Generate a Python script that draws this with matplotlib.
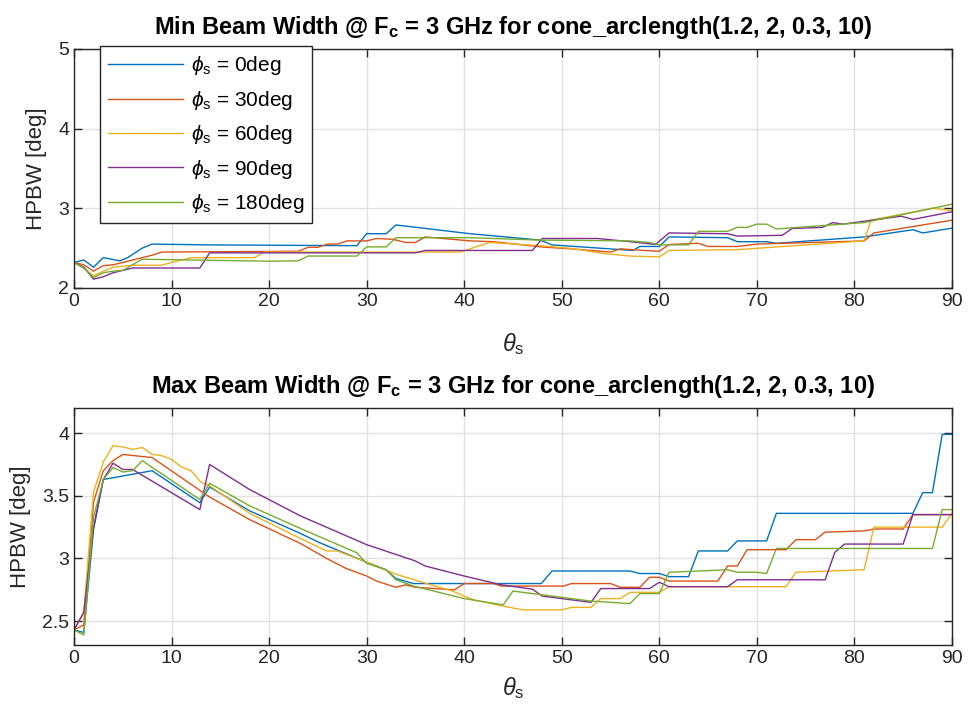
import numpy as np
import matplotlib
matplotlib.use("Agg")
import matplotlib.pyplot as plt

plt.rcParams['font.family'] = ['Liberation Sans', 'DejaVu Sans']
plt.rcParams['mathtext.fontset'] = 'custom'
plt.rcParams['mathtext.rm'] = 'Liberation Sans'
plt.rcParams['mathtext.it'] = 'Liberation Sans:italic'
plt.rcParams['mathtext.bf'] = 'Liberation Sans:bold'

phi_labels = [r'$\phi_\mathregular{s}$ = 0deg', r'$\phi_\mathregular{s}$ = 30deg',
              r'$\phi_\mathregular{s}$ = 60deg', r'$\phi_\mathregular{s}$ = 90deg',
              r'$\phi_\mathregular{s}$ = 180deg']
colors = ['#0072BD', '#D95319', '#EDB120', '#7E2F8E', '#77AC30']

# ---- Min beam width (top) ----
min_x_0 = [0, 1, 2, 3, 4.7, 5.5, 7, 8, 13.6, 29, 30, 32, 33, 40.6, 47.8, 49, 57.3, 58, 60, 61,
           67, 68, 71, 72, 81, 86, 87, 90]
min_y_0 = [2.32, 2.35, 2.26, 2.38, 2.34, 2.38, 2.50, 2.55, 2.54, 2.53, 2.68, 2.68, 2.79, 2.68,
           2.60, 2.54, 2.47, 2.52, 2.52, 2.64, 2.63, 2.58, 2.58, 2.56, 2.64, 2.73, 2.69, 2.75]
min_x_30 = [0, 1, 2, 3, 4, 6, 8, 9, 23, 24, 25, 26, 27, 28, 30, 31, 32.7, 34, 35, 36, 40.6, 43,
            47.8, 51, 55, 56, 57.3, 58.4, 60, 61, 64, 65, 68, 70, 81, 82, 90]
min_y_30 = [2.32, 2.29, 2.21, 2.28, 2.29, 2.35, 2.41, 2.45, 2.46, 2.51, 2.51, 2.55, 2.55, 2.59,
            2.59, 2.62, 2.61, 2.57, 2.57, 2.64, 2.59, 2.58, 2.515, 2.49, 2.45, 2.49, 2.48, 2.47,
            2.46, 2.545, 2.56, 2.52, 2.52, 2.55, 2.59, 2.69, 2.85]
min_x_60 = [0, 1, 2, 3, 4, 6, 9, 10, 12, 18.5, 19.5, 23, 39.6, 41.3, 42.6, 47.8, 51, 54.4, 57,
            60, 61, 68, 81, 81.7, 88, 90]
min_y_60 = [2.32, 2.25, 2.15, 2.21, 2.26, 2.285, 2.285, 2.32, 2.38, 2.38, 2.45, 2.45, 2.45, 2.52,
            2.57, 2.53, 2.495, 2.43, 2.40, 2.39, 2.47, 2.48, 2.59, 2.85, 3.0, 2.97]
min_x_90 = [0, 1, 2, 3, 4, 6, 12.9, 13.9, 35, 36, 47, 48, 53.7, 57, 59.6, 61, 67, 68, 72.6, 73.6,
            76.7, 77.8, 78.8, 84.8, 86, 90]
min_y_90 = [2.32, 2.26, 2.11, 2.14, 2.19, 2.25, 2.25, 2.44, 2.44, 2.47, 2.47, 2.62, 2.62, 2.58,
            2.545, 2.69, 2.68, 2.65, 2.66, 2.745, 2.76, 2.82, 2.80, 2.90, 2.86, 2.955]
min_x_180 = [0, 1, 2, 3, 4, 5, 7, 20, 23, 24, 29, 30, 32, 33, 40.6, 47.8, 57, 59, 60, 63, 64, 67,
             68, 69, 70, 71, 72, 81, 90]
min_y_180 = [2.32, 2.25, 2.13, 2.19, 2.21, 2.22, 2.36, 2.335, 2.34, 2.40, 2.40, 2.515, 2.515, 2.63,
             2.63, 2.60, 2.59, 2.57, 2.54, 2.54, 2.71, 2.71, 2.76, 2.76, 2.80, 2.80, 2.74, 2.82, 3.05]

# ---- Max beam width (bottom) ----
max_x_0 = [0, 1, 2, 3, 8, 12.9, 13.9, 18, 23.2, 25.2, 30, 32, 33, 34.8, 47.9, 49, 57, 58, 60, 61,
           63, 64, 67, 68, 71, 72, 86, 87, 88, 89, 90]
max_y_0 = [2.43, 2.41, 3.23, 3.63, 3.70, 3.445, 3.57, 3.38, 3.20, 3.125, 2.97, 2.91, 2.84, 2.80,
           2.80, 2.90, 2.90, 2.88, 2.88, 2.855, 2.855, 3.06, 3.06, 3.14, 3.14, 3.36, 3.36, 3.525,
           3.525, 3.99, 3.99]
max_x_30 = [0, 1, 2, 3, 4, 5, 8, 13.9, 18, 23.2, 25.9, 27.9, 30, 31, 33, 34, 35, 39, 40, 43, 43.8,
            50.2, 51, 55, 56, 58, 59, 60, 61, 66, 67, 68, 69, 73, 74, 76, 77, 81, 82, 85, 86, 90]
max_y_30 = [2.43, 2.47, 3.45, 3.70, 3.78, 3.83, 3.805, 3.49, 3.31, 3.12, 3.00, 2.92, 2.86, 2.82,
            2.77, 2.79, 2.77, 2.75, 2.80, 2.80, 2.78, 2.78, 2.80, 2.80, 2.77, 2.77, 2.85, 2.85,
            2.82, 2.82, 2.94, 2.94, 3.07, 3.07, 3.15, 3.15, 3.21, 3.22, 3.235, 3.235, 3.35, 3.35]
max_x_60 = [0, 1, 2, 3, 4, 5, 6, 7, 8, 9, 10, 11, 12, 13, 13.9, 18, 23.2, 25.9, 27, 30, 33, 35.7,
            38.8, 40, 41, 44, 46, 50, 51, 53, 54, 56, 57, 60, 61, 73, 74, 81, 82, 89, 90]
max_y_60 = [2.43, 2.57, 3.53, 3.77, 3.90, 3.89, 3.87, 3.885, 3.83, 3.82, 3.79, 3.73, 3.70, 3.61,
            3.58, 3.36, 3.16, 3.06, 3.06, 2.97, 2.875, 2.81, 2.74, 2.70, 2.67, 2.62, 2.59, 2.59,
            2.61, 2.61, 2.68, 2.68, 2.73, 2.73, 2.775, 2.775, 2.89, 2.91, 3.25, 3.25, 3.36]
max_x_90 = [0, 1, 2, 3, 4, 5, 6, 12.9, 13.9, 18, 23.2, 30, 35, 36, 40, 43.8, 47, 48, 53, 54, 59,
            60, 61, 67, 68, 77, 78, 79, 85, 86, 90]
max_y_90 = [2.43, 2.57, 3.25, 3.63, 3.76, 3.71, 3.71, 3.39, 3.75, 3.55, 3.34, 3.11, 2.98, 2.94,
            2.86, 2.79, 2.755, 2.70, 2.65, 2.76, 2.76, 2.81, 2.775, 2.775, 2.83, 2.83, 3.05, 3.115,
            3.115, 3.35, 3.35]
max_x_180 = [0, 1, 2, 3, 4, 5, 6, 7, 12.9, 13.9, 18, 23.2, 29, 30, 32, 33, 34.8, 40, 44, 45, 53,
             57, 58, 60, 61, 67, 68, 70, 71, 72, 88, 89, 90]
max_y_180 = [2.43, 2.39, 3.33, 3.63, 3.725, 3.69, 3.70, 3.78, 3.47, 3.60, 3.42, 3.24, 3.045, 2.96,
             2.91, 2.83, 2.78, 2.68, 2.63, 2.74, 2.66, 2.64, 2.72, 2.72, 2.89, 2.91, 2.89, 2.89,
             2.88, 3.08, 3.08, 3.39, 3.39]

min_series = [(min_x_0, min_y_0), (min_x_30, min_y_30), (min_x_60, min_y_60),
              (min_x_90, min_y_90), (min_x_180, min_y_180)]
max_series = [(max_x_0, max_y_0), (max_x_30, max_y_30), (max_x_60, max_y_60),
              (max_x_90, max_y_90), (max_x_180, max_y_180)]

title_min = r'Min Beam Width @ F$_\mathbf{c}$ = 3 GHz for cone_arclength(1.2, 2, 0.3, 10)'
title_max = r'Max Beam Width @ F$_\mathbf{c}$ = 3 GHz for cone_arclength(1.2, 2, 0.3, 10)'


def style_axes(ax, xpad):
    ax.set_xlim(0, 90)
    ax.set_xticks(np.arange(0, 91, 10))
    ax.grid(True, color='#e1e1e1', linewidth=1.0)
    ax.set_axisbelow(True)
    for s in ax.spines.values():
        s.set_color('#262626')
        s.set_linewidth(1.0)
    ax.tick_params(direction='in', length=6, width=1.0, colors='#262626',
                   labelsize=14, top=True, right=True, labelcolor='#262626')
    ax.set_xlabel(r'$\theta_\mathregular{s}$', fontsize=17, color='#262626', labelpad=xpad)
    ax.set_ylabel('HPBW [deg]', fontsize=16, color='#262626', labelpad=8)


fig = plt.figure(figsize=(9.69, 7.18), dpi=100)
ax1 = fig.add_axes([0.0764, 0.599, 0.906, 0.333])
ax2 = fig.add_axes([0.0764, 0.1017, 0.906, 0.330])

for (x, y), c, lab in zip(min_series, colors, phi_labels):
    ax1.plot(x, y, color=c, linewidth=1.0, label=lab)
style_axes(ax1, 15)
ax1.set_ylim(2, 5)
ax1.set_yticks([2, 3, 4, 5])
ax1.set_title(title_min, fontsize=17, fontweight='bold', pad=11)
leg = ax1.legend(loc='upper left', bbox_to_anchor=(0.03, 1.01), borderaxespad=0,
                 fontsize=15, handlelength=3.6, labelspacing=0.55, fancybox=False,
                 framealpha=1, edgecolor='#262626', borderpad=0.38, handletextpad=0.35)
leg.get_frame().set_linewidth(1.0)

for (x, y), c in zip(max_series, colors):
    ax2.plot(x, y, color=c, linewidth=1.0)
style_axes(ax2, 6)
ax2.set_ylim(2.31, 4.2)
ax2.set_yticks([2.5, 3, 3.5, 4])
ax2.set_yticklabels(['2.5', '3', '3.5', '4'])
ax2.set_title(title_max, fontsize=17, fontweight='bold', pad=11)

fig.savefig('out.png', dpi=100)
